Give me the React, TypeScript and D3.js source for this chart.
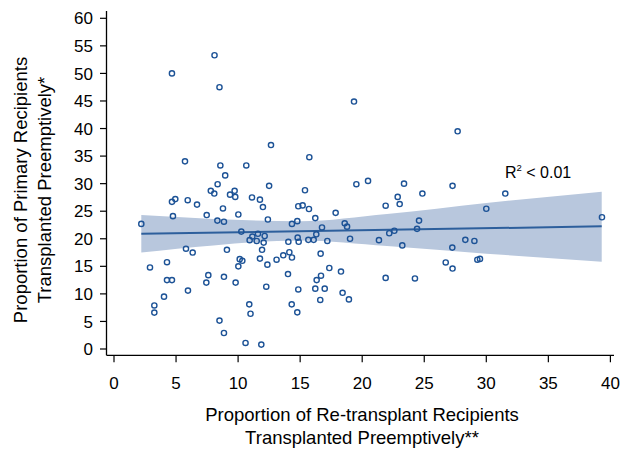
import React from 'react';
import * as d3 from 'd3';

// retransplant preemptive % (x) vs primary preemptive % (y)
const reTx = [
  8.1, 4.67, 8.5, 12.65, 5.72, 8.57, 10.66, 8.96, 19.34, 15.74, 19.53, 20.47,
  8.35, 7.8, 8.08, 12.5, 9.72, 9.35, 9.77, 4.94, 4.67, 5.94, 6.69, 11.12,
  11.76, 12.0, 8.78, 7.47, 10.02, 4.75, 12.4, 2.2, 8.33, 8.86, 10.26, 11.15,
  11.6, 12.14, 10.93, 11.5, 12.06, 11.93, 5.8, 6.34, 9.1, 10.13, 10.34, 10.02,
  11.76, 13.1, 12.36, 2.9, 4.27, 4.27, 4.67, 7.6, 7.44, 8.86, 9.8, 5.96,
  12.27, 4.03, 3.25, 3.25, 10.9, 11.0, 8.5, 8.86, 10.6, 11.87,
  23.37, 15.39, 22.86, 23.02, 24.85, 21.89, 14.85, 15.2, 15.71, 17.86, 16.22,
  14.77, 14.34, 16.76, 18.59, 18.78, 24.58, 24.42, 22.59, 22.18, 16.3, 14.8,
  14.88, 14.05, 15.66, 16.09, 17.19, 19.02, 21.35, 23.23, 16.65, 14.13, 13.64,
  14.34, 17.35, 18.29, 14.02, 16.68, 16.33, 21.89, 24.25, 26.73, 14.85, 16.22,
  16.98, 18.42, 18.93, 16.62, 14.32, 14.77,
  27.69, 27.28, 31.53, 30.0, 39.32, 28.31, 29.04, 27.26, 27.28, 29.28, 29.49,
];
const primary = [
  53.3, 50.0, 47.5, 37.0, 34.05, 33.3, 33.3, 31.5, 44.9, 34.8, 29.9, 30.5,
  29.9, 28.7, 28.2, 29.6, 28.7, 28.0, 27.6, 27.2, 26.7, 27.0, 26.2, 27.5,
  27.1, 25.75, 25.5, 24.3, 24.4, 24.1, 23.5, 22.7, 23.3, 23.1, 21.3, 20.4,
  20.9, 20.5, 19.75, 19.6, 19.3, 18.0, 18.2, 17.5, 18.0, 16.3, 16.0, 15.0,
  16.4, 16.2, 15.3, 14.8, 15.75, 12.5, 12.5, 13.4, 12.05, 13.1, 12.05, 10.6,
  11.3, 9.5, 7.9, 6.6, 8.1, 6.4, 5.15, 2.9, 1.1, 0.8,
  30.0, 28.8, 27.6, 26.3, 28.2, 26.0, 25.9, 26.05, 25.4, 24.7, 23.75,
  23.2, 22.7, 22.05, 22.8, 22.2, 23.3, 21.8, 21.45, 21.0, 20.8, 20.2,
  19.45, 19.45, 19.8, 19.8, 19.6, 20.0, 19.75, 18.8, 17.3, 17.55, 17.0,
  16.6, 14.7, 14.05, 13.6, 13.3, 12.5, 12.9, 12.8, 15.7, 10.8, 10.95,
  10.95, 10.2, 9.0, 8.9, 8.1, 6.65,
  39.5, 29.6, 28.2, 25.45, 23.9, 19.8, 19.6, 18.4, 14.6, 16.2, 16.35,
];

// fitted line and its 95% band
const fitX = [2.2, 39.3];
const fitY = [20.9, 22.25];
const bandX = [2.2, 8, 15, 22, 30, 39.3];
const bandLo = [17.5, 18.8, 19.7, 18.7, 17.3, 15.85];
const bandHi = [24.3, 23.6, 23.2, 24.5, 26.5, 28.55];

const xTicks = [0, 5, 10, 15, 20, 25, 30, 35, 40];
const yTicks = [0, 5, 10, 15, 20, 25, 30, 35, 40, 45, 50, 55, 60];

const font = '"Liberation Sans", Arial, Helvetica, sans-serif';
const blue = '#1c5296';

const App: React.FC = () => {
  const width = 635;
  const height = 449;
  const x = d3.scaleLinear().domain([0, 40]).range([114, 610.4]);
  const y = d3.scaleLinear().domain([0, 60]).range([349, 18.3]);
  const axisX = 106.5;
  const axisY = 355.3;

  const band = bandX.map((v, i) => ({ v, lo: bandLo[i], hi: bandHi[i] }));
  const area = d3.area<{ v: number; lo: number; hi: number }>()
    .x((d) => x(d.v))
    .y0((d) => y(d.lo))
    .y1((d) => y(d.hi))
    .curve(d3.curveMonotoneX);

  return (
    <svg width={width} height={height} style={{ position: 'absolute', left: 0, top: 0 }}>
      <rect width={width} height={height} fill="#fff" />
      <path d={area(band) ?? ''} fill="#b8c7dd" />
      <line x1={x(fitX[0])} x2={x(fitX[1])} y1={y(fitY[0])} y2={y(fitY[1])}
        stroke="#2d5f9c" strokeWidth={2} />
      {reTx.map((v, i) => (
        <circle key={i} cx={x(v)} cy={y(primary[i])} r={2.6} fill="none"
          stroke={blue} strokeWidth={1.4} />
      ))}

      {/* axes */}
      <line x1={axisX} x2={axisX} y1={axisY} y2={11} stroke="#000" strokeWidth={1.3} />
      <line x1={axisX} x2={614} y1={axisY} y2={axisY} stroke="#000" strokeWidth={1.3} />
      {yTicks.map((tv) => (
        <g key={tv}>
          <line x1={axisX - 6.5} x2={axisX} y1={y(tv)} y2={y(tv)} stroke="#000" strokeWidth={1.2} />
          <text x={93} y={y(tv)} dy="0.36em" textAnchor="end" fontSize={17}
            fontFamily={font}>{tv}</text>
        </g>
      ))}
      {xTicks.map((tv) => (
        <g key={tv}>
          <line x1={x(tv)} x2={x(tv)} y1={axisY} y2={axisY + 7} stroke="#000" strokeWidth={1.2} />
          <text x={x(tv)} y={388.5} textAnchor="middle" fontSize={17} fontFamily={font}>{tv}</text>
        </g>
      ))}

      {/* titles */}
      <text x={362} y={420.5} textAnchor="middle" fontSize={18.5} fontFamily={font}>
        Proportion of Re-transplant Recipients
      </text>
      <text x={362} y={443.5} textAnchor="middle" fontSize={18.5} fontFamily={font}>
        Transplanted Preemptively**
      </text>
      <g transform="translate(26.7,190) rotate(-90)">
        <text x={0} y={0} textAnchor="middle" fontSize={18.5} fontFamily={font}>
          Proportion of Primary Recipients
        </text>
        <text x={0} y={24} textAnchor="middle" fontSize={18.5} fontFamily={font}>
          Transplanted Preemptively*
        </text>
      </g>

      <text x={505} y={178.3} fontSize={16} fontFamily={font}>
        R<tspan dy={-7} fontSize={9.5}>2</tspan><tspan dy={7}> &lt; 0.01</tspan>
      </text>
    </svg>
  );
};

export default App;
